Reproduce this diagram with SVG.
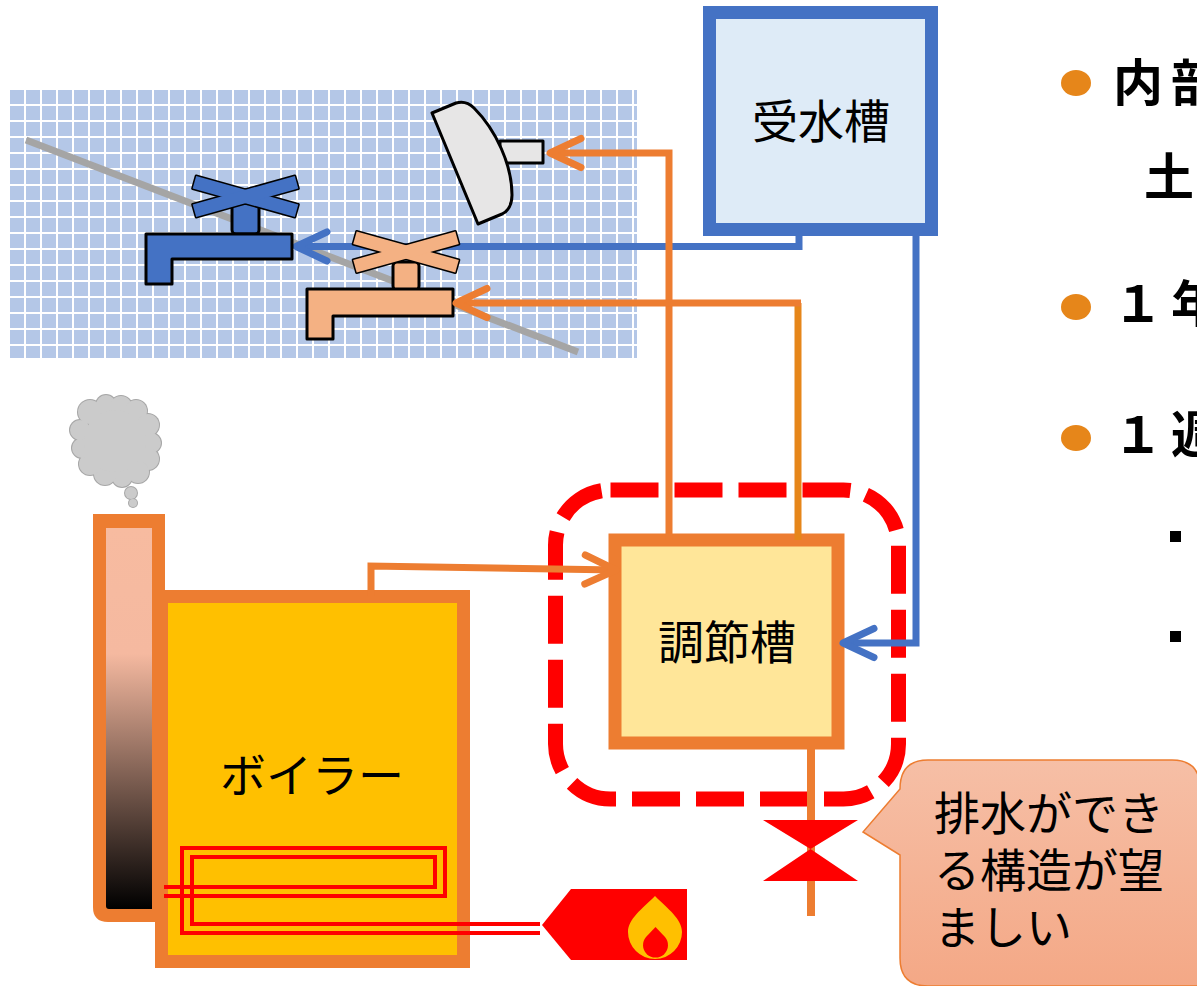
<svg xmlns="http://www.w3.org/2000/svg" width="1197" height="986" viewBox="0 0 1197 986">
  <style>
    .jp { font-family: "Noto Sans CJK JP", "Noto Sans", sans-serif; fill: #000; }
    .label { font-size: 46px; text-anchor: middle; }
    .bullet-text { font-size: 50px; font-weight: bold; letter-spacing: 8px; }
    .pipe-o { fill: none; stroke: #ED7D31; stroke-width: 7; }
    .pipe-b { fill: none; stroke: #4472C4; stroke-width: 7; }
    .outline { stroke: #000; stroke-width: 3; stroke-linejoin: round; }
    .coil { fill: none; stroke: #FF0000; stroke-width: 4; }
  </style>
  <defs>
    <pattern id="tiles" patternUnits="userSpaceOnUse" x="10" y="90" width="16" height="16">
      <rect x="0" y="0" width="14" height="14" fill="#B4C7E7"/>
    </pattern>
    <linearGradient id="flue" x1="0" y1="0" x2="0" y2="1">
      <stop offset="0" stop-color="#F7BBA0"/>
      <stop offset="0.33" stop-color="#F5B9A0"/>
      <stop offset="1" stop-color="#000000"/>
    </linearGradient>
    <linearGradient id="balloon" x1="0" y1="0" x2="0" y2="1">
      <stop offset="0" stop-color="#F6BFA6"/>
      <stop offset="1" stop-color="#F4A886"/>
    </linearGradient>
    <marker id="arrow-o" markerUnits="userSpaceOnUse" viewBox="-40 -20 60 40" markerWidth="60" markerHeight="40" refX="0" refY="0" orient="auto" overflow="visible">
      <path d="M-31,-14.5 L0,0 L-31,14.5" fill="none" stroke="#ED7D31" stroke-width="7" stroke-linecap="round" stroke-linejoin="round"/>
    </marker>
    <marker id="arrow-b" markerUnits="userSpaceOnUse" viewBox="-40 -20 60 40" markerWidth="60" markerHeight="40" refX="0" refY="0" orient="auto" overflow="visible">
      <path d="M-31,-14.5 L0,0 L-31,14.5" fill="none" stroke="#4472C4" stroke-width="7" stroke-linecap="round" stroke-linejoin="round"/>
    </marker>
  </defs>

  <rect width="1197" height="986" fill="#FFFFFF"/>

  <!-- tiled bathroom wall -->
  <g id="wall">
    <rect x="10" y="90" width="627" height="268" fill="url(#tiles)"/>
    <line x1="26" y1="140" x2="578" y2="352" stroke="#A5A5A5" stroke-width="7"/>
  </g>

  <!-- area around the regulating tank -->
  <g id="highlight">
    <rect x="555.5" y="490" width="343" height="309" rx="55" ry="55" fill="none" stroke="#FF0000" stroke-width="15" stroke-dasharray="48 16"/>
  </g>

  <g id="supply-tank">
    <rect x="709.5" y="12.5" width="222" height="217" fill="#DEEBF7" stroke="#4472C4" stroke-width="13"/>
    <text class="jp label" x="821" y="138">受水槽</text>
  </g>

  <g id="regulating-tank">
    <rect x="615" y="540" width="223" height="203" fill="#FFE699" stroke="#ED7D31" stroke-width="13"/>
    <text class="jp label" x="727" y="659">調節槽</text>
  </g>

  <g id="chimney">
    <path d="M93,514 H165 V922 H108 Q93,922 93,907 Z" fill="#ED7D31"/>
    <path d="M106,528 H152 V909 H109 Q106,909 106,906 Z" fill="url(#flue)"/>
  </g>

  <g id="smoke">
    <g fill="#A6A6A6">
      <circle cx="90" cy="412" r="13"/><circle cx="106" cy="405" r="11"/><circle cx="121" cy="407" r="12"/>
      <circle cx="136" cy="411" r="12"/><circle cx="148" cy="425" r="12"/><circle cx="151" cy="443" r="11"/>
      <circle cx="148" cy="459" r="12"/><circle cx="138" cy="472" r="12"/><circle cx="122" cy="477" r="11"/>
      <circle cx="105" cy="474" r="12"/><circle cx="90" cy="464" r="12"/><circle cx="82" cy="448" r="11"/>
      <circle cx="80" cy="430" r="11"/><circle cx="131" cy="493" r="7"/><circle cx="133" cy="503" r="5"/>
    </g>
    <g fill="#CBCBCB">
      <circle cx="90" cy="412" r="12"/><circle cx="106" cy="405" r="10"/><circle cx="121" cy="407" r="11"/>
      <circle cx="136" cy="411" r="11"/><circle cx="148" cy="425" r="11"/><circle cx="151" cy="443" r="10"/>
      <circle cx="148" cy="459" r="11"/><circle cx="138" cy="472" r="11"/><circle cx="122" cy="477" r="10"/>
      <circle cx="105" cy="474" r="11"/><circle cx="90" cy="464" r="11"/><circle cx="82" cy="448" r="10"/>
      <circle cx="80" cy="430" r="10"/><circle cx="115" cy="441" r="31"/>
      <circle cx="131" cy="493" r="6"/><circle cx="133" cy="503" r="4"/>
    </g>
  </g>

  <g id="boiler">
    <rect x="161.5" y="596.5" width="302" height="365" fill="#FFC000" stroke="#ED7D31" stroke-width="13"/>
    <text class="jp label" x="312" y="792">ボイラー</text>
    <path class="coil" d="M164,887 H435 V857 H192 V924 H540"/>
    <path class="coil" d="M164,896 H445 V848 H182 V933 H540"/>
  </g>

  <g id="burner">
    <path d="M542,925 L571,889 H687 V960 H571 Z" fill="#FF0000"/>
    <path d="M655,896 C642,909 628,919 628,932 A27,27 0 0 0 682,932 C682,919 668,909 655,896 Z" fill="#FFC000"/>
    <path d="M655.5,927 L646,937 A12.5,12.5 0 1 0 665,937 Z" fill="#FF0000"/>
  </g>

  <!-- cold water lines -->
  <g id="connectors-cold">
    <path class="pipe-b" d="M799,236 V246.5 H296" marker-end="url(#arrow-b)"/>
    <path class="pipe-b" d="M916,236 V643 H843" marker-end="url(#arrow-b)"/>
  </g>

  <g id="tap-cold">
    <rect x="232" y="203" width="27" height="31" rx="4" fill="#4472C4" class="outline"/>
    <path d="M146,234 H292 V259 H172 V284 H146 Z" fill="#4472C4" class="outline"/>
    <g transform="translate(245.5,196.5)">
      <g class="outline" fill="#4472C4">
        <rect x="-53" y="-6.5" width="106" height="13" transform="rotate(15.6)"/>
        <rect x="-53" y="-6.5" width="106" height="13" transform="rotate(-15.6)"/>
      </g>
      <g fill="#4472C4">
        <rect x="-53" y="-6.5" width="106" height="13" transform="rotate(15.6)"/>
        <rect x="-53" y="-6.5" width="106" height="13" transform="rotate(-15.6)"/>
      </g>
    </g>
  </g>

  <g id="tap-hot">
    <rect x="393" y="262" width="26" height="28" rx="4" fill="#F4B183" class="outline"/>
    <path d="M307,289 H453 V316 H333 V339 H307 Z" fill="#F4B183" class="outline"/>
    <g transform="translate(406,252)">
      <g class="outline" fill="#F4B183">
        <rect x="-53" y="-6.5" width="106" height="13" transform="rotate(15.6)"/>
        <rect x="-53" y="-6.5" width="106" height="13" transform="rotate(-15.6)"/>
      </g>
      <g fill="#F4B183">
        <rect x="-53" y="-6.5" width="106" height="13" transform="rotate(15.6)"/>
        <rect x="-53" y="-6.5" width="106" height="13" transform="rotate(-15.6)"/>
      </g>
    </g>
  </g>

  <g id="shower">
    <rect x="500" y="141" width="43" height="22" fill="#E7E6E6" class="outline"/>
    <path d="M432,113 L456,103 Q466,100 474,108 C496,130 512,165 512,195 Q512,209 502,214 L478,224 Z" fill="#E7E6E6" class="outline"/>
  </g>

  <!-- hot water lines -->
  <g id="connectors-hot">
    <path class="pipe-o" d="M669,540 V153 H550" marker-end="url(#arrow-o)"/>
    <line x1="798" y1="540" x2="798" y2="303" stroke="#E6861A" stroke-width="7"/>
    <path class="pipe-o" d="M801,303 H456" marker-end="url(#arrow-o)"/>
    <path class="pipe-o" d="M371,596 V566 L616,570" marker-end="url(#arrow-o)"/>
    <line x1="811" y1="743" x2="811" y2="916" stroke="#ED7D31" stroke-width="8"/>
  </g>

  <g id="drain-valve">
    <path d="M763,820 H858 L810.5,849 Z M810.5,849 L858,881 H763 Z" fill="#FF0000"/>
  </g>

  <g id="note">
    <path d="M928,760 H1172 Q1200,760 1200,788 V986 H928 Q900,986 900,958 V855 L863,832 L900,789 Q900,760 928,760 Z" fill="url(#balloon)" stroke="#ED7D31" stroke-width="1.5"/>
    <text class="jp" font-size="46">
      <tspan x="934" y="830">排水ができ</tspan>
      <tspan x="934" y="887">る構造が望</tspan>
      <tspan x="934" y="944">ましい</tspan>
    </text>
  </g>

  <g id="bullets">
    <ellipse cx="1076" cy="83" rx="15" ry="13" fill="#E6861A"/>
    <ellipse cx="1076" cy="307" rx="15" ry="13" fill="#E6861A"/>
    <ellipse cx="1076" cy="438" rx="15" ry="13" fill="#E6861A"/>
    <rect x="1170" y="531" width="11" height="11" fill="#000"/>
    <rect x="1170" y="631" width="11" height="11" fill="#000"/>
    <text class="jp bullet-text" x="1113" y="101">内部</text>
    <text class="jp bullet-text" x="1144" y="195" letter-spacing="0">土</text>
    <text class="jp bullet-text" x="1113" y="322">１年</text>
    <text class="jp bullet-text" x="1113" y="453">１週</text>
  </g>
</svg>
